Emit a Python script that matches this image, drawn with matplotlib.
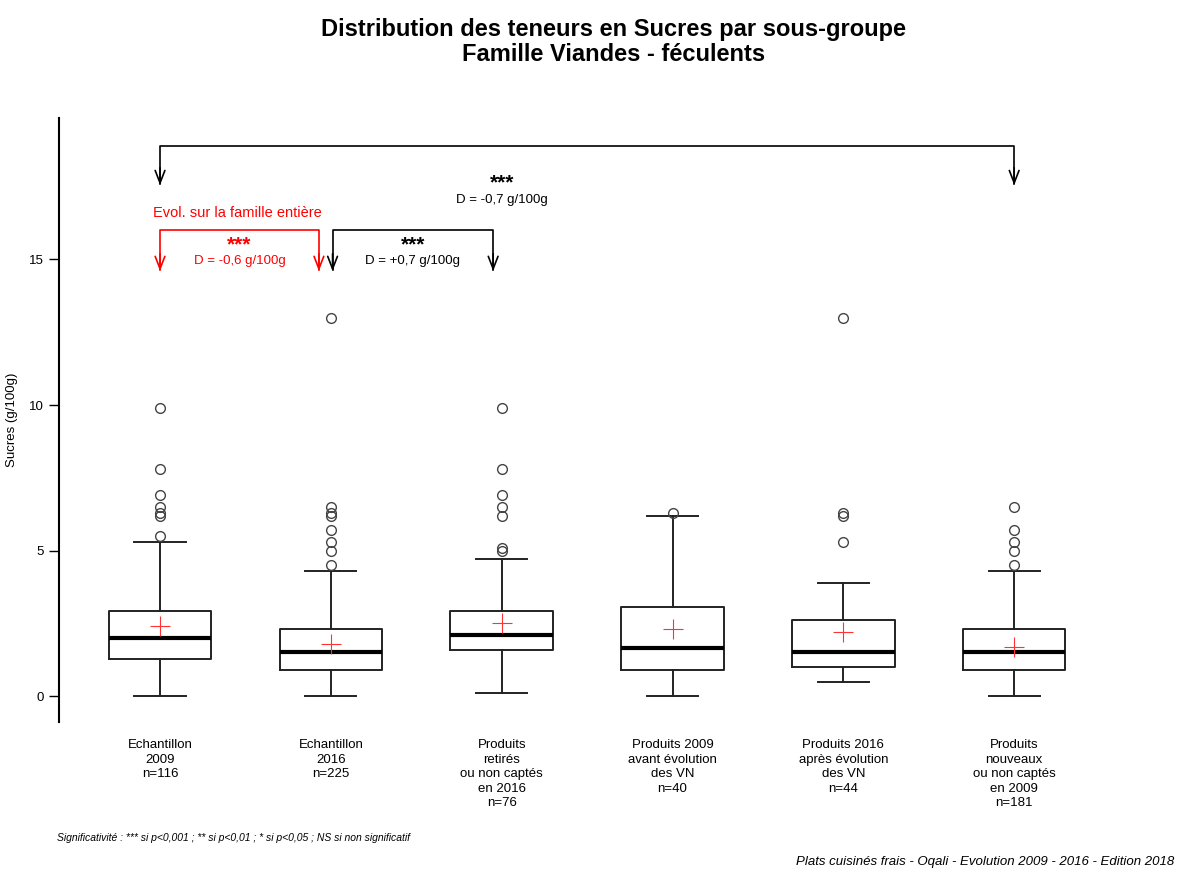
import matplotlib
matplotlib.use('Agg')
import matplotlib.pyplot as plt

plt.rcParams['font.family'] = ['Liberation Sans', 'DejaVu Sans']

# groupes et statistiques (g/100g)
groups = ['Echantillon\n2009\nn=116', 'Echantillon\n2016\nn=225',
          'Produits\nretirés\nou non captés\nen 2016\nn=76',
          'Produits 2009\navant évolution\ndes VN\nn=40',
          'Produits 2016\naprès évolution\ndes VN\nn=44',
          'Produits\nnouveaux\nou non captés\nen 2009\nn=181']
whislo = [0.0, 0.0, 0.1, 0.0, 0.5, 0.0]
q1 = [1.27, 0.9, 1.58, 0.9, 1.0, 0.9]
med = [2.0, 1.5, 2.1, 1.65, 1.5, 1.5]
q3 = [2.93, 2.3, 2.91, 3.06, 2.61, 2.3]
whishi = [5.3, 4.3, 4.7, 6.2, 3.9, 4.3]
means = [2.42, 1.79, 2.52, 2.29, 2.21, 1.68]
outliers = [
    [5.5, 6.2, 6.3, 6.5, 6.9, 7.8, 9.9],
    [4.5, 5.0, 5.3, 5.7, 6.2, 6.3, 6.5, 13.0],
    [5.0, 5.1, 6.2, 6.5, 6.9, 7.8, 9.9],
    [6.3],
    [5.3, 6.2, 6.3, 13.0],
    [4.5, 5.0, 5.3, 5.7, 6.5],
]

# comparaisons: (groupe a, groupe b, etoiles, difference, couleur)
comparisons = [
    (1, 2, '***', 'D = -0,6 g/100g', 'red'),
    (2, 3, '***', 'D = +0,7 g/100g', 'black'),
    (1, 6, '***', 'D = -0,7 g/100g', 'black'),
]

stats = []
for i in range(len(groups)):
    stats.append(dict(whislo=whislo[i], q1=q1[i], med=med[i], q3=q3[i],
                      whishi=whishi[i], fliers=outliers[i], mean=means[i]))

fig = plt.figure(figsize=(11.78, 8.71), dpi=100)
ax = fig.add_axes([0.050, 0.171, 0.8965, 0.6935])

lc = '#222222'
ax.bxp(stats, positions=range(1, 7), widths=0.6, showmeans=True,
       boxprops=dict(color=lc, linewidth=1.4),
       whiskerprops=dict(color=lc, linewidth=1.4),
       capprops=dict(color=lc, linewidth=1.4),
       medianprops=dict(color='black', linewidth=3),
       flierprops=dict(marker='o', markerfacecolor='none', markeredgecolor='#444444',
                       markersize=7, markeredgewidth=1),
       meanprops=dict(marker='+', markeredgecolor='#ff3333', markersize=15, markeredgewidth=0.8))

ax.set_xlim(0.408, 6.59)
ax.set_ylim(-0.89, 19.86)
for s in ['top', 'right', 'bottom']:
    ax.spines[s].set_visible(False)
ax.spines['left'].set_linewidth(1.5)
ax.set_yticks([0, 5, 10, 15])
ax.tick_params(axis='y', labelsize=9.5, length=7, width=1, pad=4)
ax.set_xticks([])
ax.set_ylabel('Sucres (g/100g)', fontsize=9.5)
ax.yaxis.set_label_coords(-0.039, 0.5)

for i, g in enumerate(groups):
    ax.text(i + 1, -1.48, g, ha='center', va='top', fontsize=9.5, linespacing=1.28)

# fleches de comparaison
arrow = dict(arrowstyle='->,head_length=0.9,head_width=0.35', linewidth=1.2, shrinkA=0, shrinkB=0)
for a, b, stars, diff, col in comparisons:
    if b - a == 5:
        ytop, ytip = 18.9, 17.55
        xa, xb = a, b
        xt = 3
        ax.text(xt, 17.62, stars, ha='center', va='center', fontsize=15, fontweight='bold', color=col)
        ax.text(xt, 17.05, diff, ha='center', va='center', fontsize=9.5, color=col)
    else:
        ytop, ytip = 16.0, 14.6
        if col == 'red':
            xa, xb = a, b - 0.07
        else:
            xa, xb = a + 0.01, b - 0.05
        xt = (xa + xb) / 2
        ax.text(xt, 15.5, stars, ha='center', va='center', fontsize=15, fontweight='bold', color=col)
        ax.text(xt, 14.95, diff, ha='center', va='center', fontsize=9.5, color=col)
    ax.plot([xa, xa, xb, xb], [ytip + 0.05, ytop, ytop, ytip + 0.05], color=col, linewidth=1.2)
    for x in (xa, xb):
        ax.annotate('', xy=(x, ytip), xytext=(x, ytip + 0.6), arrowprops=dict(arrow, color=col))

ax.text(1.45, 16.6, 'Evol. sur la famille entière', ha='center', va='center', fontsize=10.5, color='red')

fig.text(0.521, 0.979, 'Distribution des teneurs en Sucres par sous-groupe\nFamille Viandes - féculents',
         ha='center', va='top', fontsize=17, fontweight='bold', linespacing=1.1)
fig.text(0.048, 0.038, 'Significativité : *** si p<0,001 ; ** si p<0,01 ; * si p<0,05 ; NS si non significatif',
         ha='left', va='center', fontsize=7.5, style='italic')
fig.text(0.997, 0.010, 'Plats cuisinés frais - Oqali - Evolution 2009 - 2016 - Edition 2018',
         ha='right', va='center', fontsize=9.5, style='italic')

fig.savefig('out.png', dpi=100)
